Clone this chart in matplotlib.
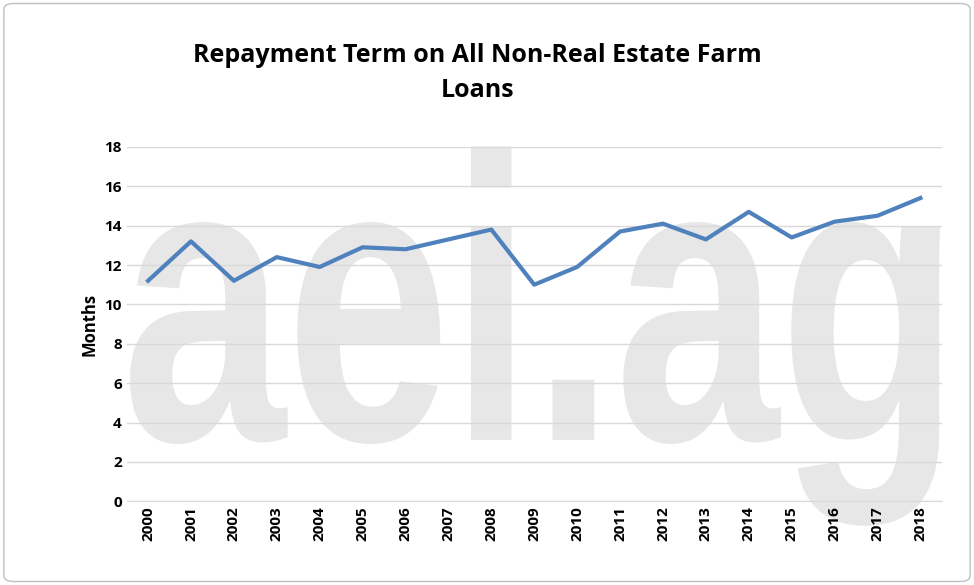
import matplotlib.pyplot as plt
from matplotlib.patches import FancyBboxPatch, PathPatch
from matplotlib.textpath import TextPath
from matplotlib.font_manager import FontProperties
from matplotlib.transforms import Affine2D, IdentityTransform

years = [str(y) for y in range(2000, 2019)]
months = [11.2, 13.2, 11.2, 12.4, 11.9, 12.9, 12.8, 13.3, 13.8, 11.0,
          11.9, 13.7, 14.1, 13.3, 14.7, 13.4, 14.2, 14.5, 15.4]
yticks = list(range(0, 20, 2))

plt.rcParams['font.family'] = ['Open Sans', 'DejaVu Sans']
fig = plt.figure(figsize=(9.74, 5.85), dpi=100)
fig.patches.append(FancyBboxPatch((0.004, 0.006), 0.992, 0.988,
                                  boxstyle='round,pad=0,rounding_size=0.01',
                                  transform=fig.transFigure, fill=False,
                                  edgecolor='#bfbfbf', linewidth=1))

# watermark, squeezed to fit behind the plot area (pixel coords)
tp = TextPath((0, 0), 'aei.ag', size=1,
              prop=FontProperties(family='Liberation Sans', weight='bold'))
ext = tp.get_extents()
sx = 810 / ext.width
sy = 405
tr = Affine2D().translate(-ext.x0, 0).scale(sx, sy).translate(130, 585 - 440)
wm = PathPatch(tr.transform_path(tp), transform=IdentityTransform(),
               facecolor='#e7e7e7', edgecolor='none', zorder=-1)
fig.patches.append(wm)

ax = fig.add_axes([0.130, 0.143, 0.837, 0.606])
ax.patch.set_alpha(0)

x = range(len(years))
ax.plot(x, months, color='#4f81bd', linewidth=3, zorder=3)
ax.set_xlim(-0.5, len(years) - 0.5)
ax.set_ylim(0, 18)
ax.set_yticks(yticks)
ax.set_xticks(list(x))
ax.set_xticklabels(years, rotation=90, fontsize=11, fontweight='bold')
ax.tick_params(axis='y', labelsize=11, length=0)
ax.tick_params(axis='x', length=0)
for lbl in ax.get_yticklabels():
    lbl.set_fontweight('bold')
ax.grid(axis='y', color='#d9d9d9', linewidth=1)
ax.set_axisbelow(True)
for s in ['top', 'right', 'left']:
    ax.spines[s].set_visible(False)
ax.spines['bottom'].set_color('#d9d9d9')
ax.set_ylabel('Months', fontsize=12, fontweight='bold')
fig.text(0.49, 0.875, 'Repayment Term on All Non-Real Estate Farm\nLoans',
         ha='center', va='center', fontsize=18, fontweight='bold',
         linespacing=1.5)

fig.savefig('out.png', dpi=100)
